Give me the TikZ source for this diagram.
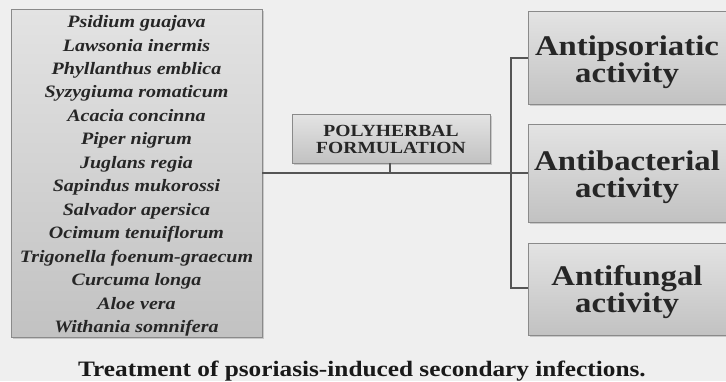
\documentclass[tikz,border=0pt]{standalone}
\usepackage{fontspec}
\setmainfont{Liberation Serif}
\newfontfamily\wideserif[FakeStretch=1.15]{Liberation Serif}
\usetikzlibrary{shadows}
\definecolor{bgcol}{HTML}{EFEFEF}
\definecolor{linecol}{HTML}{555555}
\definecolor{boxedge}{HTML}{8A8A8A}
\tikzset{
  x=1pt, y=1pt,
  panel/.style={draw=boxedge, line width=1pt, top color=gray!22, bottom color=gray!48,
    drop shadow={shadow xshift=1.5pt, shadow yshift=-1.5pt, opacity=0.35}},
  plant/.style={font=\wideserif\bfseries\itshape\fontsize{17.4}{17}\selectfont, inner sep=0pt,
    text height=0.62em, text depth=0.2em, text=black!85},
  act/.style={font=\wideserif\bfseries\fontsize{28.5}{27}\selectfont, align=center, inner sep=0pt, text=black!85},
  link/.style={draw=linecol, line width=1.8pt}
}
\begin{document}
\begin{tikzpicture}
\useasboundingbox (0,0) rectangle (726,381);
\fill[bgcol] (0,0) rectangle (726,381);

% herb list panel
\path[panel] (11,44) rectangle (262,371);
\coordinate (herbs) at (262,208);
\foreach \name [count=\i from 0] in {Psidium guajava, Lawsonia inermis, Phyllanthus emblica,
  Syzygiuma romaticum, Acacia concinna, Piper nigrum, Juglans regia, Sapindus mukorossi,
  Salvador apersica, Ocimum tenuiflorum, Trigonella foenum-graecum, Curcuma longa,
  Aloe vera, Withania somnifera}
  \node[plant] (h\i) at (136.5, {355.5-23.46*\i}) {\name};

% formulation box
\path[panel] (292,218) rectangle (490,266);
\node[font=\wideserif\bfseries\fontsize{17}{17}\selectfont, align=center, inner sep=0pt, text=black!85]
  (poly) at (391,242) {POLYHERBAL\\FORMULATION};
\coordinate (polyb) at (390,218);

% activity boxes (run off the right edge)
\path[panel] (528,276) rectangle (740,369);
\path[panel] (528,159) rectangle (740,256);
\path[panel] (528,46) rectangle (740,138);
\node[act] (a1) at (627,319) {Antipsoriatic\\activity};
\node[act] (a2) at (627,204) {Antibacterial\\activity};
\node[act] (a3) at (627,89) {Antifungal\\activity};
\coordinate (a1w) at (528,323);
\coordinate (a2w) at (528,208);
\coordinate (a3w) at (528,93);

% connectors
\coordinate (split) at (511,208);
\draw[link] (herbs) -- (split);
\draw[link] (polyb) -- (390,208);
\draw[link] (a1w) -| (split) |- (a3w);
\draw[link] (split) -- (a2w);

\node[font=\wideserif\bfseries\fontsize{22}{22}\selectfont, text=black!90] (cap) at (362,10)
  {Treatment of psoriasis-induced secondary infections.};
\end{tikzpicture}
\end{document}
